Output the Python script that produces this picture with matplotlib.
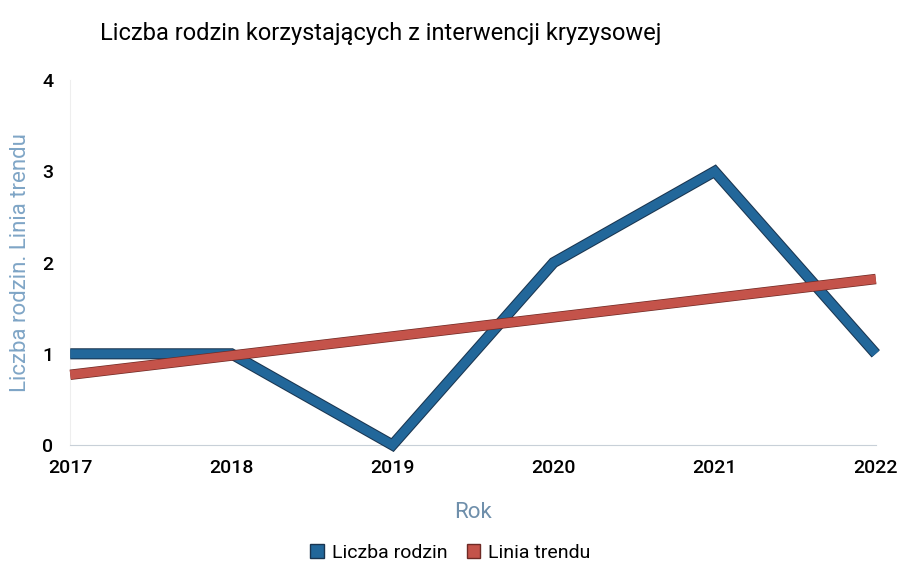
import matplotlib.pyplot as plt
import matplotlib.patheffects as pe
from matplotlib.patches import Patch

# data
years = [2017, 2018, 2019, 2020, 2021, 2022]
families = [1, 1, 0, 2, 3, 1]
trend = [0.77, 0.98, 1.19, 1.40, 1.61, 1.82]

blue = '#22679a'
red = '#c4534a'

plt.rcParams['font.family'] = ['Roboto', 'DejaVu Sans']

fig = plt.figure(figsize=(9.01, 5.65), dpi=100)
ax = fig.add_axes([0.078, 0.2124, 0.894, 0.6456])

ax.plot(years, families, color=blue, lw=6.5, solid_joinstyle='miter',
        solid_capstyle='butt', clip_on=False, zorder=3,
        path_effects=[pe.Stroke(linewidth=8, foreground='#1a3550'), pe.Normal()])
ax.plot(years, trend, color=red, lw=6.5, solid_capstyle='butt',
        clip_on=False, zorder=4,
        path_effects=[pe.Stroke(linewidth=7.5, foreground='#6e2a25'), pe.Normal()])

ax.set_xlim(2017, 2022)
ax.set_ylim(0, 4)
ax.set_xticks(years)
ax.set_yticks([0, 1, 2, 3, 4])
ax.tick_params(length=0, labelsize=14)
ax.tick_params(axis='x', pad=10)
ax.tick_params(axis='y', pad=12)
for lab in ax.get_xticklabels() + ax.get_yticklabels():
    lab.set_fontweight('medium')

for s in ['top', 'right']:
    ax.spines[s].set_visible(False)
ax.spines['left'].set_color('#eeeeee')
ax.spines['bottom'].set_color('#c8d0d8')

ax.set_xlabel('Rok', color='#6f8fab', fontsize=16, labelpad=18)
ax.set_ylabel('Liczba rodzin. Linia trendu', color='#7fa5c6', fontsize=16, labelpad=8)

fig.text(0.111, 0.94, 'Liczba rodzin korzystających z interwencji kryzysowej',
         fontsize=17, va='center', ha='left')

handles = [Patch(facecolor=blue, edgecolor='#1a3550', label='Liczba rodzin'),
           Patch(facecolor=red, edgecolor='#6e2a25', label='Linia trendu')]
fig.legend(handles=handles, loc='center', bbox_to_anchor=(0.5, 0.022), ncol=2,
           frameon=False, fontsize=14, handlelength=0.7, handleheight=0.7,
           handletextpad=0.4, columnspacing=1.0)

fig.savefig('out.png', dpi=100)
